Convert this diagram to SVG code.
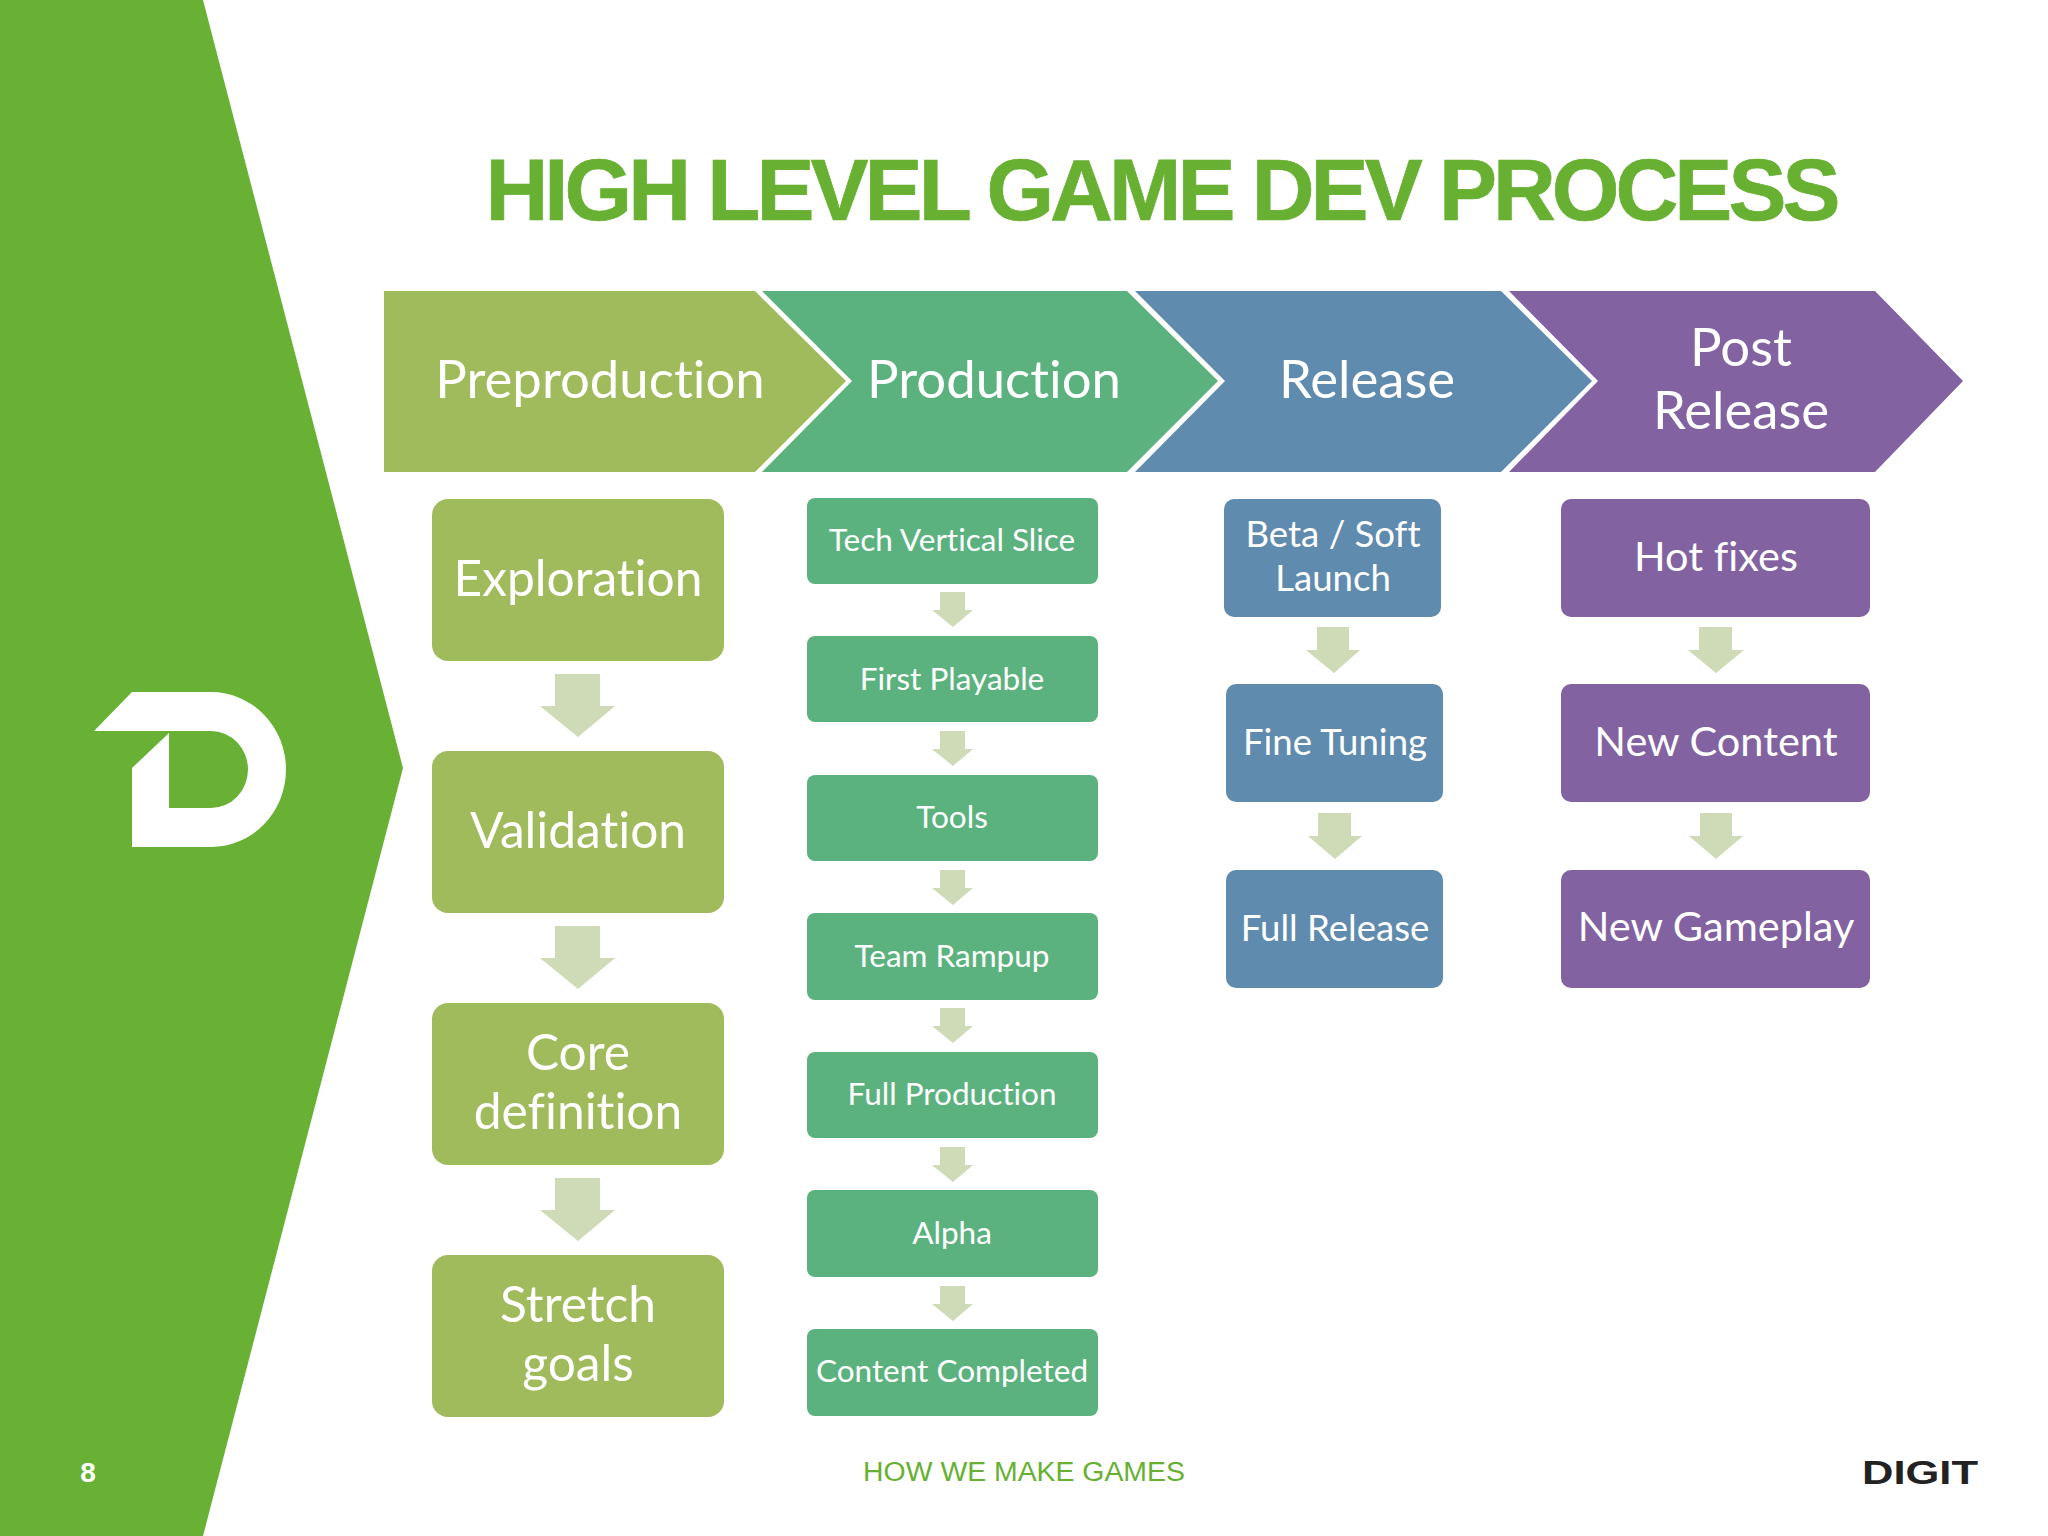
<svg xmlns="http://www.w3.org/2000/svg" width="2048" height="1536" viewBox="0 0 2048 1536">
<defs><style>
text{font-family:"Lato","Carlito","Liberation Sans",sans-serif;fill:#fff;text-anchor:middle;font-variant-ligatures:none}
.olive{fill:#9fbb5c}.green{fill:#5cb27f}.blue{fill:#5f8bae}.purple{fill:#8262a0}
.arrow{fill:#cfdab7}
.h{font-size:52.7px}.l{font-size:49.7px}.m{font-size:41.5px}.s{font-size:31.5px}.c3{font-size:36.6px}
.foot{font-family:"Liberation Sans",Arial,sans-serif}
</style></defs>
<rect width="2048" height="1536" fill="#fff"/>
<polygon id="side" points="0,0 203,0 403,768 203,1536 0,1536" fill="#69b134"/>
<path id="logo" fill="#fff" d="M94 731L132 692H211A75 77.5 0 0 1 211 847H132V768L169 733V808H211A37 38.5 0 0 0 211 731Z"/>
<text id="title" class="foot" x="1163" y="220" text-anchor="middle" style="font-size:87px;font-weight:700;fill:#67b032;stroke:#67b032;stroke-width:0.7" textLength="1355" lengthAdjust="spacing">HIGH LEVEL GAME DEV PROCESS</text>

<g id="phase-preproduction"><polygon class="olive" points="384,291 755,291 846,381 755,472 384,472"/><text class="h" x="600" y="398">Preproduction</text></g>
<g id="phase-production"><polygon class="green" points="762,291 1127,291 1218,381 1127,472 762,472 852,381"/><text class="h" x="994" y="398">Production</text></g>
<g id="phase-release"><polygon class="blue" points="1135,291 1501,291 1592,381 1501,472 1135,472 1225,381"/><text class="h" x="1367" y="398">Release</text></g>
<g id="phase-post"><polygon class="purple" points="1509,291 1875,291 1963,381 1875,472 1509,472 1598,381"/><text class="h" x="1741" y="366">Post</text><text class="h" x="1741" y="429">Release</text></g>

<g id="connectors" class="arrow">
<polygon points="555,674 600,674 600,706 615,706 578,737 540,706 555,706"/>
<polygon points="555,926 600,926 600,958 615,958 578,989 540,958 555,958"/>
<polygon points="555,1178 600,1178 600,1210 615,1210 578,1241 540,1210 555,1210"/>
<polygon points="940,592 965,592 965,610 973,610 953,627 932,610 940,610"/>
<polygon points="940,731 965,731 965,749 973,749 953,766 932,749 940,749"/>
<polygon points="940,870 965,870 965,888 973,888 953,905 932,888 940,888"/>
<polygon points="940,1008 965,1008 965,1026 973,1026 953,1043 932,1026 940,1026"/>
<polygon points="940,1147 965,1147 965,1165 973,1165 953,1182 932,1165 940,1165"/>
<polygon points="940,1286 965,1286 965,1304 973,1304 953,1321 932,1304 940,1304"/>
<polygon points="1317,627 1349,627 1349,650 1360,650 1334,673 1306,650 1317,650"/>
<polygon points="1318,813 1351,813 1351,836 1362,836 1335,859 1308,836 1318,836"/>
<polygon points="1699,627 1732,627 1732,650 1744,650 1716,673 1688,650 1699,650"/>
<polygon points="1700,813 1732,813 1732,836 1743,836 1716,859 1689,836 1700,836"/>
</g>

<g id="exploration"><rect class="olive" x="432" y="499" width="292" height="162" rx="16"/><text class="l" x="578" y="596">Exploration</text></g>
<g id="validation"><rect class="olive" x="432" y="751" width="292" height="162" rx="16"/><text class="l" x="578" y="848">Validation</text></g>
<g id="core"><rect class="olive" x="432" y="1003" width="292" height="162" rx="16"/><text class="l" x="578" y="1070">Core</text><text class="l" x="578" y="1129">definition</text></g>
<g id="stretch"><rect class="olive" x="432" y="1255" width="292" height="162" rx="16"/><text class="l" x="578" y="1322">Stretch</text><text class="l" x="578" y="1381">goals</text></g>

<g id="tech"><rect class="green" x="807" y="498" width="291" height="86" rx="8"/><text class="s" x="952" y="551">Tech Vertical Slice</text></g>
<g id="playable"><rect class="green" x="807" y="636" width="291" height="86" rx="8"/><text class="s" x="952" y="690">First Playable</text></g>
<g id="tools"><rect class="green" x="807" y="775" width="291" height="86" rx="8"/><text class="s" x="952" y="828">Tools</text></g>
<g id="rampup"><rect class="green" x="807" y="913" width="291" height="87" rx="8"/><text class="s" x="952" y="967">Team Rampup</text></g>
<g id="full-production"><rect class="green" x="807" y="1052" width="291" height="86" rx="8"/><text class="s" x="952" y="1105">Full Production</text></g>
<g id="alpha"><rect class="green" x="807" y="1190" width="291" height="87" rx="8"/><text class="s" x="952" y="1244">Alpha</text></g>
<g id="content"><rect class="green" x="807" y="1329" width="291" height="87" rx="8"/><text class="s" x="952" y="1382">Content Completed</text></g>

<g id="beta"><rect class="blue" x="1224" y="499" width="217" height="118" rx="10"/><text class="c3" x="1333" y="547">Beta / Soft</text><text class="c3" x="1333" y="591">Launch</text></g>
<g id="fine"><rect class="blue" x="1226" y="684" width="217" height="118" rx="10"/><text class="c3" x="1335" y="755">Fine Tuning</text></g>
<g id="full-release"><rect class="blue" x="1226" y="870" width="217" height="118" rx="10"/><text class="c3" x="1335" y="941">Full Release</text></g>

<g id="hot"><rect class="purple" x="1561" y="499" width="309" height="118" rx="10"/><text class="m" x="1716" y="571">Hot fixes</text></g>
<g id="new-content"><rect class="purple" x="1561" y="684" width="309" height="118" rx="10"/><text class="m" x="1716" y="756">New Content</text></g>
<g id="new-gameplay"><rect class="purple" x="1561" y="870" width="309" height="118" rx="10"/><text class="m" x="1716" y="941">New Gameplay</text></g>

<text id="page" class="foot" x="88" y="1482" style="font-size:28px;font-weight:700">8</text>
<text id="footer" class="foot" x="1024" y="1481" style="font-size:28.4px;fill:#67b032">HOW WE MAKE GAMES</text>
<text id="digit" class="foot" x="1920" y="1484" style="font-size:34px;font-weight:700;fill:#222" textLength="116" lengthAdjust="spacingAndGlyphs">DIGIT</text>
</svg>
